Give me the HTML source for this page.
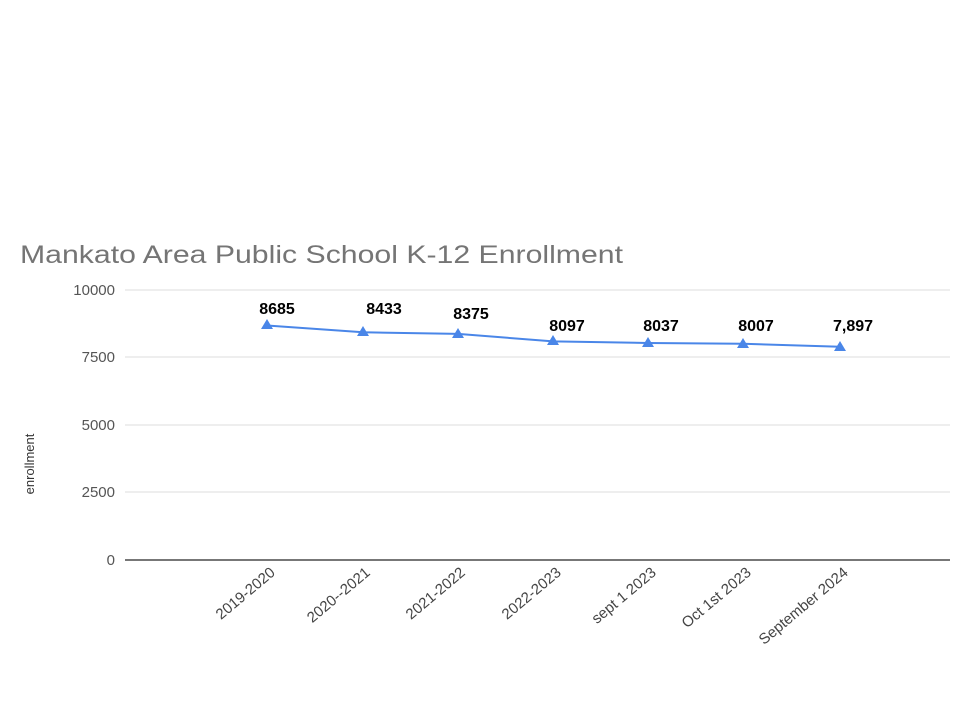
<!DOCTYPE html>
<html><head><meta charset="utf-8"><style>html,body{margin:0;padding:0;background:#fff}</style></head>
<body>
<svg width="960" height="720" viewBox="0 0 960 720" xmlns="http://www.w3.org/2000/svg" font-family="Liberation Sans, Arial, sans-serif">
<rect width="960" height="720" fill="#fff"/>
<text x="20" y="263" font-size="25" fill="#757575" textLength="603" lengthAdjust="spacingAndGlyphs">Mankato Area Public School K-12 Enrollment</text>
<g stroke="#dcdcdc" stroke-width="1">
<line x1="125" y1="290" x2="950" y2="290"/>
<line x1="125" y1="357" x2="950" y2="357"/>
<line x1="125" y1="425" x2="950" y2="425"/>
<line x1="125" y1="492" x2="950" y2="492"/>
</g>
<line x1="125" y1="560" x2="950" y2="560" stroke="#777" stroke-width="2"/>
<g font-size="15" fill="#555" text-anchor="end">
<text x="115" y="295">10000</text>
<text x="115" y="362">7500</text>
<text x="115" y="430">5000</text>
<text x="115" y="497">2500</text>
<text x="115" y="565">0</text>
</g>
<text transform="translate(34,464) rotate(-90)" font-size="13" fill="#333" text-anchor="middle">enrollment</text>
<polyline fill="none" stroke="#4a86e8" stroke-width="2" points="267,325.5 363,332.3 458,333.9 553,341.4 648,343 743,343.8 840,346.8"/>
<g fill="#4a86e8">
<path d="M267,319 l6,10 h-12z"/>
<path d="M363,326 l6,10 h-12z"/>
<path d="M458,328 l6,10 h-12z"/>
<path d="M553,335 l6,10 h-12z"/>
<path d="M648,337 l6,10 h-12z"/>
<path d="M743,338 l6,10 h-12z"/>
<path d="M840,341 l6,10 h-12z"/>
</g>
<g font-size="16" font-weight="bold" fill="#000" text-anchor="middle">
<text x="277" y="314">8685</text>
<text x="384" y="314">8433</text>
<text x="471" y="319">8375</text>
<text x="567" y="331">8097</text>
<text x="661" y="331">8037</text>
<text x="756" y="331">8007</text>
<text x="853" y="331">7,897</text>
</g>
<g font-size="15" fill="#444" text-anchor="end">
<text transform="translate(276,574) rotate(-40)">2019-2020</text>
<text transform="translate(371,574) rotate(-40)">2020--2021</text>
<text transform="translate(466,574) rotate(-40)">2021-2022</text>
<text transform="translate(562,574) rotate(-40)">2022-2023</text>
<text transform="translate(657,574) rotate(-40)">sept 1 2023</text>
<text transform="translate(752,574) rotate(-40)">Oct 1st 2023</text>
<text transform="translate(849,574) rotate(-40)">September 2024</text>
</g>
</svg>
</body></html>
